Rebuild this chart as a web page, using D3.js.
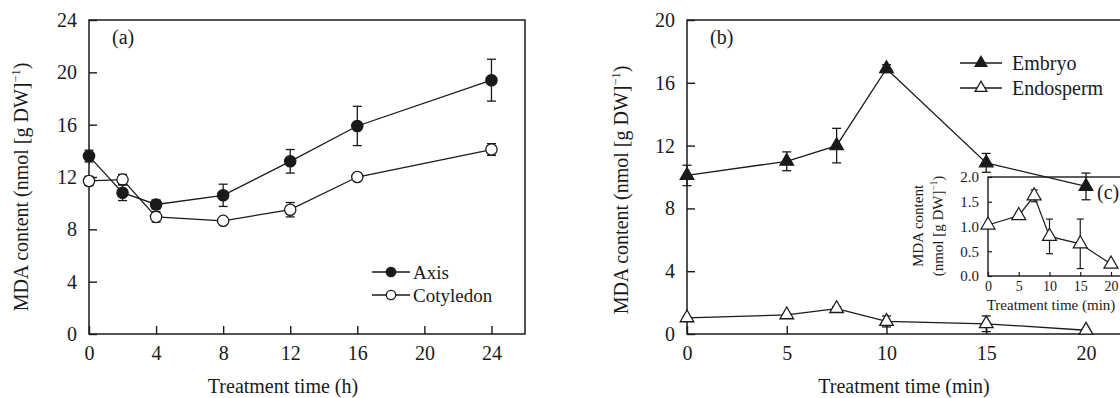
<!DOCTYPE html>
<html>
<head>
<meta charset="utf-8">
<script src="https://cdn.jsdelivr.net/npm/d3@7"></script>
<style>
  html, body { margin: 0; padding: 0; background: #fff; overflow: hidden; }
  svg { display: block; font-family: "Liberation Serif", "Times New Roman", serif; }
</style>
</head>
<body>
<svg id="chart" width="1120" height="398"></svg>
<script>
// ---- Panel (a): MDA in axis and cotyledon, hours ----
const timeH = [0, 2, 4, 8, 12, 16, 24];
const axisMean = [13.6, 10.8, 9.9, 10.6, 13.2, 15.9, 19.4];
const axisErr  = [0.45, 0.6, 0.35, 0.85, 0.9, 1.5, 1.6];
const cotMean  = [11.7, 11.8, 8.95, 8.65, 9.5, 12.0, 14.1];
const cotErr   = [0.35, 0.4, 0.4, 0.15, 0.55, 0.15, 0.45];
const yTicksA = [0, 4, 8, 12, 16, 20, 24];
const xTicksA = [0, 4, 8, 12, 16, 20, 24];

// ---- Panel (b): MDA in embryo and endosperm, minutes ----
const timeM = [0, 5, 7.5, 10, 15, 20];
const embMean = [10.1, 11.0, 12.0, 16.9, 10.9, 9.4];
const embErr  = [0.65, 0.6, 1.1, 0.25, 0.6, 0.85];
const endoMean = [1.03, 1.22, 1.62, 0.8, 0.65, 0.24];
const endoErr  = [0.05, 0.06, 0.12, 0.35, 0.5, 0.06];
const yTicksB = [0, 4, 8, 12, 16, 20];
const xTicksB = [0, 5, 10, 15, 20];

// ---- Inset (c): endosperm on its own scale ----
const yTicksC = [0, 0.5, 1.0, 1.5, 2.0];
const xTicksC = [0, 5, 10, 15, 20];

const svg = d3.select("#chart");
const INK = "#1a1a1a";

function frame(g, x0, x1, y0, y1, sw) {
  g.append("rect").attr("x", x0).attr("y", y1)
    .attr("width", x1 - x0).attr("height", y0 - y1)
    .attr("fill", "none").attr("stroke", INK).attr("stroke-width", sw);
}

function styleAxis(sel, fs, sw) {
  sel.select(".domain").remove();
  sel.selectAll(".tick line").attr("stroke", INK).attr("stroke-width", sw);
  sel.selectAll(".tick text").attr("fill", INK).attr("font-size", fs)
    .attr("font-family", "'Liberation Serif', serif");
}

function yTitle(g, x, y, fs, lines) {
  const t = g.append("text").attr("transform", `translate(${x},${y}) rotate(-90)`)
    .attr("text-anchor", "middle").attr("font-size", fs).attr("fill", INK);
  lines.forEach((ln, i) => {
    const row = t.append("tspan").attr("x", 0).attr("dy", i === 0 ? 0 : fs * 1.3);
    row.append("tspan").text(ln[0]);
    if (ln[1]) {
      row.append("tspan").attr("dy", -fs * 0.38).attr("font-size", fs * 0.62).text("\u22121");
      row.append("tspan").attr("dy", fs * 0.38).text(")");
    }
  });
}

function series(g, x, y, xs, means, errs, sym, filled, size, capW, sw) {
  const pts = xs.map((v, i) => ({ x: v, y: means[i], e: errs[i] }));
  g.append("path").datum(pts)
    .attr("d", d3.line().x(d => x(d.x)).y(d => y(d.y)))
    .attr("fill", "none").attr("stroke", INK).attr("stroke-width", sw);
  const eb = g.append("g").selectAll("g").data(pts).join("g");
  eb.append("line").attr("x1", d => x(d.x)).attr("x2", d => x(d.x))
    .attr("y1", d => y(d.y + d.e)).attr("y2", d => y(d.y - d.e))
    .attr("stroke", INK).attr("stroke-width", sw);
  [1, -1].forEach(s => eb.append("line")
    .attr("x1", d => x(d.x) - capW / 2).attr("x2", d => x(d.x) + capW / 2)
    .attr("y1", d => y(d.y + s * d.e)).attr("y2", d => y(d.y + s * d.e))
    .attr("stroke", INK).attr("stroke-width", sw));
  g.append("g").selectAll("path").data(pts).join("path")
    .attr("transform", d => `translate(${x(d.x)},${y(d.y)})`)
    .attr("d", d3.symbol(sym, size))
    .attr("fill", filled ? INK : "#fff").attr("stroke", INK).attr("stroke-width", sw);
}

function legend(g, x, y, items, fs, rowH, lineW, gap) {
  items.forEach((it, i) => {
    const row = g.append("g").attr("transform", `translate(${x},${y + i * rowH})`);
    row.append("line").attr("x1", 0).attr("x2", lineW).attr("stroke", INK).attr("stroke-width", 1.3);
    row.append("path").attr("transform", `translate(${lineW / 2},0)`)
      .attr("d", d3.symbol(it.sym, it.size))
      .attr("fill", it.filled ? INK : "#fff").attr("stroke", INK).attr("stroke-width", 1.3);
    row.append("text").attr("x", lineW + gap).attr("y", 0).attr("dy", "0.35em")
      .attr("font-size", fs).attr("fill", INK).text(it.label);
  });
}

const FS = 20;

// ================= Panel (a) =================
{
  const g = svg.append("g");
  const x = d3.scaleLinear().domain([0, 26]).range([89, 525]);
  const y = d3.scaleLinear().domain([0, 24]).range([334, 20]);
  frame(g, 89, 525, 334, 20, 1.5);
  g.append("g").attr("transform", "translate(0,334)")
    .call(d3.axisBottom(x).tickValues(xTicksA).tickSizeInner(-8).tickSizeOuter(0).tickPadding(12))
    .call(s => styleAxis(s, FS, 1.4));
  g.append("g").attr("transform", "translate(89,0)")
    .call(d3.axisLeft(y).tickValues(yTicksA).tickSizeInner(-8).tickSizeOuter(0).tickPadding(12))
    .call(s => styleAxis(s, FS, 1.4));
  g.append("text").attr("x", 283).attr("y", 393).attr("text-anchor", "middle")
    .attr("font-size", FS).attr("fill", INK).text("Treatment time (h)");
  yTitle(g, 28, 187, FS, [["MDA content (nmol [g DW]", true]]);
  g.append("text").attr("x", 112).attr("y", 44).attr("font-size", FS).attr("fill", INK).text("(a)");

  series(g, x, y, timeH, cotMean, cotErr, d3.symbolCircle, false, 100, 9, 1.3);
  series(g, x, y, timeH, axisMean, axisErr, d3.symbolCircle, true, 100, 9, 1.3);

  legend(g, 372, 272, [
    { label: "Axis", sym: d3.symbolCircle, filled: true, size: 70 },
    { label: "Cotyledon", sym: d3.symbolCircle, filled: false, size: 70 }
  ], 19, 23, 38, 3);
}

// ================= Panel (b) =================
{
  const g = svg.append("g");
  const x = d3.scaleLinear().domain([0, 23]).range([687, 687 + 23 * 19.95]);
  const y = d3.scaleLinear().domain([0, 20]).range([334, 20]);
  frame(g, 687, x(23), 334, 20, 1.5);
  g.append("g").attr("transform", "translate(0,334)")
    .call(d3.axisBottom(x).tickValues(xTicksB).tickSizeInner(-8).tickSizeOuter(0).tickPadding(12))
    .call(s => styleAxis(s, FS, 1.4));
  g.append("g").attr("transform", "translate(687,0)")
    .call(d3.axisLeft(y).tickValues(yTicksB).tickSizeInner(-8).tickSizeOuter(0).tickPadding(12))
    .call(s => styleAxis(s, FS, 1.4));
  g.append("text").attr("x", 904).attr("y", 393).attr("text-anchor", "middle")
    .attr("font-size", FS).attr("fill", INK).text("Treatment time (min)");
  yTitle(g, 628, 190, FS, [["MDA content (nmol [g DW]", true]]);
  g.append("text").attr("x", 710).attr("y", 44).attr("font-size", FS).attr("fill", INK).text("(b)");

  // inset (c)
  const gi = g.append("g");
  const FSi = 14;
  const xi = d3.scaleLinear().domain([0, 23]).range([988, 988 + 23 * 6.15]);
  const yi = d3.scaleLinear().domain([0, 2]).range([276, 177]);
  frame(gi, 988, xi(23), 276, 177, 1.4);
  gi.append("g").attr("transform", "translate(0,276)")
    .call(d3.axisBottom(xi).tickValues(xTicksC).tickSizeInner(-4).tickSizeOuter(0).tickPadding(5))
    .call(s => styleAxis(s, FSi, 1.2));
  gi.append("g").attr("transform", "translate(988,0)")
    .call(d3.axisLeft(yi).tickValues(yTicksC).tickSizeInner(-4).tickSizeOuter(0).tickPadding(9)
      .tickFormat(d3.format(".1f")))
    .call(s => styleAxis(s, 15, 1.2));
  gi.append("text").attr("x", 1051).attr("y", 310).attr("text-anchor", "middle")
    .attr("font-size", FSi + 1).attr("fill", INK).text("Treatment time (min)");
  yTitle(gi, 923, 226, 15, [["MDA content", false], ["(nmol [g DW]", true]]);
  gi.append("text").attr("x", 1097).attr("y", 199).attr("font-size", FS).attr("fill", INK).text("(c)");
  series(gi, xi, yi, timeM, endoMean, endoErr, d3.symbolTriangle, false, 85, 7, 1.2);

  series(g, x, y, timeM, endoMean, endoErr, d3.symbolTriangle, false, 80, 9, 1.3);
  series(g, x, y, timeM, embMean, embErr, d3.symbolTriangle, true, 80, 9, 1.3);

  legend(g, 960, 63, [
    { label: "Embryo", sym: d3.symbolTriangle, filled: true, size: 60 },
    { label: "Endosperm", sym: d3.symbolTriangle, filled: false, size: 60 }
  ], 20, 25, 42, 10);
}
</script>
</body>
</html>
